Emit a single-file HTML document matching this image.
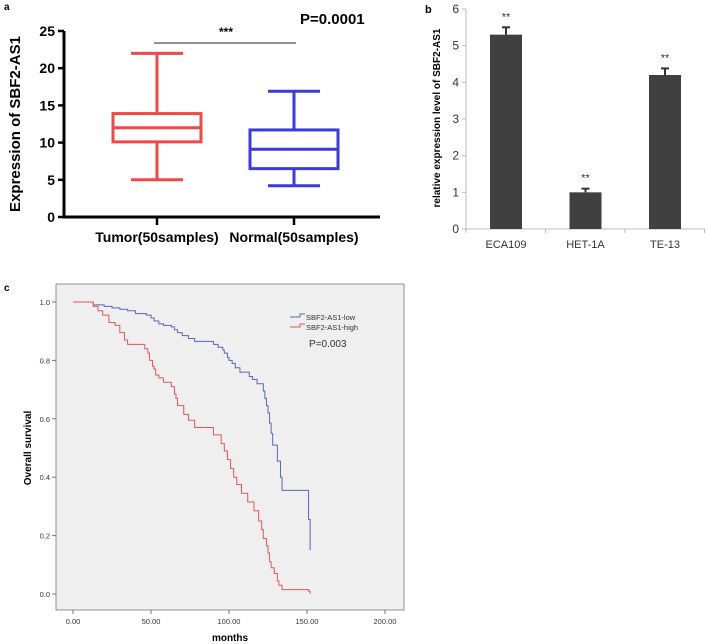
<!DOCTYPE html>
<html><head><meta charset="utf-8"><style>
body{margin:0;background:#fff;}
svg{display:block;font-family:"Liberation Sans",sans-serif;}
</style></head><body>
<svg id="s" width="708" height="644" viewBox="0 0 708 644">
<rect width="708" height="644" fill="#fff"/>
<!-- panel a static -->
<text x="4" y="10" font-size="10" font-weight="bold">a</text>
<text x="300" y="24" font-size="15" font-weight="bold">P=0.0001</text>
<text x="226" y="36" font-size="12" font-weight="bold" text-anchor="middle">***</text>
<line x1="154" y1="43" x2="296" y2="43" stroke="#222" stroke-width="1"/>
<text transform="translate(20,124) rotate(-90)" font-size="15" font-weight="bold" text-anchor="middle">Expression of SBF2-AS1</text>
<g id="ga"></g>
<!-- panel b -->
<text x="425" y="13" font-size="11" font-weight="bold">b</text>
<text transform="translate(440,118) rotate(-90)" font-size="10" font-weight="bold" text-anchor="middle">relative expression level of SBF2-AS1</text>
<g id="gb"></g>
<!-- panel c -->
<text x="4" y="291" font-size="10" font-weight="bold">c</text>
<rect x="56" y="284" width="348" height="326" fill="#efefef" stroke="#777" stroke-width="0.8"/>
<text transform="translate(31,448) rotate(-90)" font-size="10" font-weight="bold" text-anchor="middle">Overall survival</text>
<text x="230" y="641" font-size="10" font-weight="bold" text-anchor="middle">months</text>
<g>
<path d="M290 317 H300 V314 H305" fill="none" stroke="#5a66b8" stroke-width="1"/>
<text x="306" y="320" font-size="7.5" fill="#333">SBF2-AS1-low</text>
<path d="M290 327 H300 V324 H305" fill="none" stroke="#e8555a" stroke-width="1"/>
<text x="306" y="330" font-size="7.5" fill="#333">SBF2-AS1-high</text>
<text x="309" y="347" font-size="10" fill="#333">P=0.003</text>
</g>
<g id="gc"></g>
</svg>
<script>
// ---- panel a data ----
const boxGroups=["Tumor(50samples)","Normal(50samples)"];
const boxMin=[5,4.2];
const boxQ1=[10.1,6.5];
const boxMed=[12,9.1];
const boxQ3=[13.9,11.7];
const boxMax=[22,16.9];
const aTicks=[0,5,10,15,20,25];
// ---- panel b data ----
const barCats=["ECA109","HET-1A","TE-13"];
const barVals=[5.3,1.0,4.2];
const barErr=[0.2,0.1,0.18];
const bTicks=[0,1,2,3,4,5,6];
// ---- panel c data ----
const lowT=[0,13,20,25,30,35,40,47,50,52,55,58,63,65,67,70,74,78,90,93,96,97,99,100,102,104,107,113,115,118,122,123,124,125,126,127,128,131,133,134,151,152];
const lowS=[1,0.99,0.985,0.98,0.975,0.97,0.96,0.955,0.945,0.935,0.925,0.92,0.915,0.905,0.895,0.885,0.875,0.865,0.855,0.845,0.835,0.825,0.81,0.8,0.79,0.775,0.76,0.745,0.735,0.72,0.695,0.67,0.645,0.62,0.585,0.55,0.51,0.455,0.40,0.355,0.255,0.15];
const highT=[0,13,16,19,23,27,30,33,35,46,48,49,51,52,53,55,58,63,65,66,67,71,74,78,90,95,97,99,101,103,105,108,112,116,119,121,122,124,125,126,127,129,131,132,134,151,152];
const highS=[1,0.985,0.97,0.955,0.93,0.92,0.895,0.87,0.855,0.84,0.825,0.8,0.78,0.77,0.75,0.74,0.725,0.71,0.685,0.67,0.645,0.615,0.595,0.57,0.545,0.515,0.49,0.46,0.43,0.40,0.375,0.345,0.315,0.285,0.25,0.22,0.19,0.165,0.14,0.11,0.09,0.07,0.045,0.03,0.015,0.01,0.0];
const cXTicks=["0.00","50.00","100.00","150.00","200.00"];
const cYTicks=["0.0","0.2","0.4","0.6","0.8","1.0"];

const NS="http://www.w3.org/2000/svg";
function mk(p,tag,attrs,txt){const e=document.createElementNS(NS,tag);for(const k in attrs)e.setAttribute(k,attrs[k]);if(txt!==undefined)e.textContent=txt;p.appendChild(e);return e;}

// panel a
const ga=document.getElementById('ga');
const ya=v=>217-v*(186/25);
const xa=i=>157+i*137;
let e=mk(ga,'path',{d:'M64 31 V217 H380',fill:'none',stroke:'#000','stroke-width':3});

aTicks.forEach(t=>{
  mk(ga,'line',{x1:58,x2:64,y1:ya(t),y2:ya(t),stroke:'#000','stroke-width':2.5});
  e=mk(ga,'text',{x:55,y:ya(t)+5,'font-size':14,'font-weight':'bold','text-anchor':'end'},t);
  
});
const cols=['#f04848','#3a3ae0'];
boxGroups.forEach((g,i)=>{
  const cx=xa(i),c=cols[i];
  const grp=mk(ga,'g',{stroke:c,'stroke-width':3,fill:'none'});
  
  mk(grp,'rect',{x:cx-44,y:ya(boxQ3[i]),width:88,height:ya(boxQ1[i])-ya(boxQ3[i])});
  mk(grp,'line',{x1:cx-44,x2:cx+44,y1:ya(boxMed[i]),y2:ya(boxMed[i])});
  mk(grp,'line',{x1:cx,x2:cx,y1:ya(boxQ3[i]),y2:ya(boxMax[i])});
  mk(grp,'line',{x1:cx,x2:cx,y1:ya(boxQ1[i]),y2:ya(boxMin[i])});
  mk(grp,'line',{x1:cx-26,x2:cx+26,y1:ya(boxMax[i]),y2:ya(boxMax[i])});
  mk(grp,'line',{x1:cx-26,x2:cx+26,y1:ya(boxMin[i]),y2:ya(boxMin[i])});
  mk(ga,'line',{x1:cx,x2:cx,y1:217,y2:225,stroke:'#000','stroke-width':2.5});
  e=mk(ga,'text',{x:cx,y:242,'font-size':14,'font-weight':'bold','text-anchor':'middle'},g);
  
});

// panel b
const gb=document.getElementById('gb');
const yb=v=>229-v*(220/6);
const xb=i=>506+i*79.5;
e=mk(gb,'path',{d:'M466 9 V229 H705',fill:'none',stroke:'#bbb','stroke-width':1});

bTicks.forEach(t=>{
  mk(gb,'line',{x1:462,x2:466,y1:yb(t),y2:yb(t),stroke:'#bbb'});
  e=mk(gb,'text',{x:459,y:yb(t)+4,'font-size':12,fill:'#333','text-anchor':'end'},t);
  
});
[0,1,2,3].forEach(k=>mk(gb,'line',{x1:466+k*79.5,x2:466+k*79.5,y1:229,y2:233,stroke:'#bbb'}));
barCats.forEach((c,i)=>{
  const cx=xb(i);
  mk(gb,'line',{x1:cx,x2:cx,y1:yb(barVals[i]),y2:yb(barVals[i]+barErr[i]),stroke:'#333','stroke-width':2});
  mk(gb,'line',{x1:cx-4,x2:cx+4,y1:yb(barVals[i]+barErr[i]),y2:yb(barVals[i]+barErr[i]),stroke:'#333','stroke-width':2});
  e=mk(gb,'rect',{x:cx-16,y:yb(barVals[i]),width:32,height:229-yb(barVals[i]),fill:'#404040'});
  
  e=mk(gb,'text',{x:cx,y:yb(barVals[i]+barErr[i])-7,'font-size':11,fill:'#333','text-anchor':'middle'},'**');
  
  e=mk(gb,'text',{x:cx,y:248,'font-size':11,fill:'#333','text-anchor':'middle'},c);
  
});

// panel c
const gc=document.getElementById('gc');
const xc=m=>73+m*(312/200);
const yc=s=>594-s*292;
cXTicks.forEach((t,i)=>{
  const v=i*50;
  mk(gc,'line',{x1:xc(v),x2:xc(v),y1:610,y2:614,stroke:'#777'});
  e=mk(gc,'text',{x:xc(v),y:624,'font-size':7.5,fill:'#333','text-anchor':'middle'},t);
  
});
cYTicks.forEach((t,i)=>{
  const v=i*0.2;
  mk(gc,'line',{x1:52,x2:56,y1:yc(v),y2:yc(v),stroke:'#777'});
  e=mk(gc,'text',{x:50,y:yc(v)+3,'font-size':7.5,fill:'#333','text-anchor':'end'},t);
  
});
function stepPath(T,S){let d='M'+xc(T[0])+' '+yc(S[0]);for(let i=1;i<T.length;i++){d+=' H'+xc(T[i])+' V'+yc(S[i]);}return d;}
e=mk(gc,'path',{d:stepPath(lowT,lowS),fill:'none',stroke:'#5a66b8','stroke-width':1});

e=mk(gc,'path',{d:stepPath(highT,highS),fill:'none',stroke:'#e8555a','stroke-width':1});

</script>
</body></html>
